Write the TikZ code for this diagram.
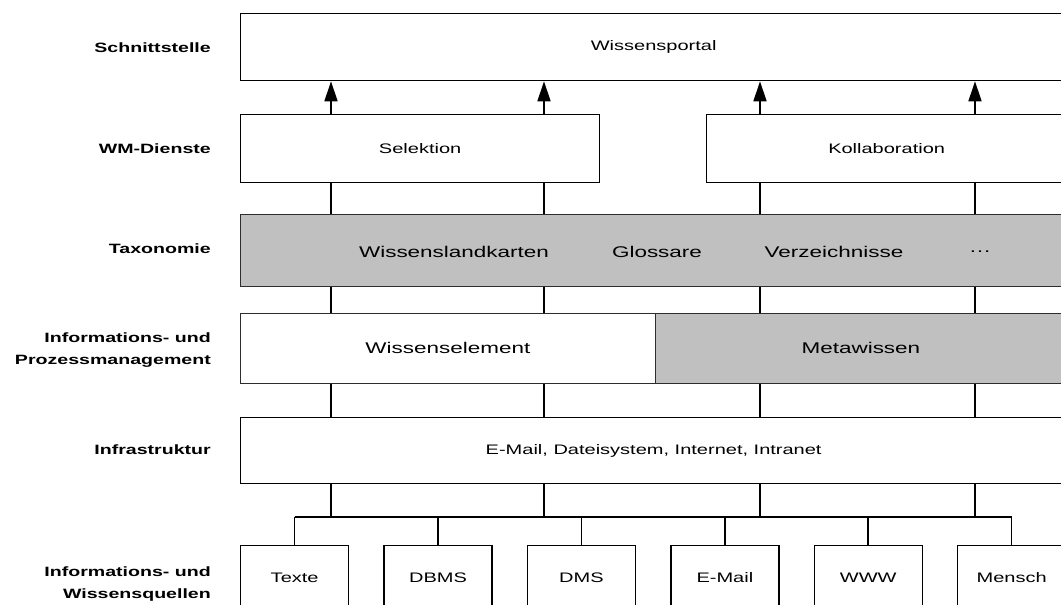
\documentclass[tikz,border=0pt]{standalone}
\usepackage{fontspec}
\setmainfont{Liberation Sans}[FakeStretch=1.45]
\usetikzlibrary{arrows.meta,positioning}
\definecolor{taxgray}{RGB}{192,192,192}
\definecolor{edgegray}{RGB}{45,45,45}

\begin{document}
\begin{tikzpicture}[
        x=1pt, y=-1pt,
        layer/.style={draw=black, line width=1.3pt, fill=white,
            anchor=north west, inner sep=0pt,
            font=\fontsize{13.8}{16}\selectfont},
        thinlayer/.style={layer, draw=edgegray, line width=0.8pt,
            font=\fontsize{15.5}{18}\selectfont},
        graylayer/.style={thinlayer, fill=taxgray},
        item/.style={inner sep=0pt, font=\fontsize{15.5}{18}\selectfont},
        source/.style={layer, minimum width=108pt, minimum height=64pt},
        levellabel/.style={anchor=east, align=right, inner sep=0pt,
            font=\bfseries\fontsize{13.5}{22}\selectfont},
        link/.style={line width=1.6pt},
        up/.style={link, -{Triangle[length=20pt,width=13pt]}}
    ]
    \useasboundingbox (0,0) rectangle (1061,605);

    % layers
    \node[layer, minimum width=826pt, minimum height=67pt] (portal) at (240,13) {Wissensportal};
    \node[layer, minimum width=359pt, minimum height=68pt] (sel) at (240,114) {Selektion};
    \node[layer, minimum width=360pt, minimum height=68pt] (kol) at (706,114) {Kollaboration};
    \node[graylayer, minimum width=826pt, minimum height=72pt] (tax) at (240,214) {};
    \node[item] (karten) at (454,252) {Wissenslandkarten};
    \node[item] (glossar) at (657,252) {Glossare};
    \node[item] (verz) at (834,252) {Verzeichnisse};
    \node[item] (more) at (980,252) {\dots};
    \node[thinlayer, minimum width=415pt, minimum height=70pt] (element) at (240,313) {Wissenselement};
    \node[graylayer, minimum width=411pt, minimum height=70pt] (meta) at (655,313) {Metawissen};
    \node[layer, minimum width=826pt, minimum height=66pt] (infra) at (240,417) {E-Mail, Dateisystem, Internet, Intranet};

    % sources
    \foreach \name/\txt [count=\i from 0] in {texte/Texte, dbms/DBMS, dms/DMS, email/E-Mail, www/WWW, mensch/Mensch}
        \node[source] (\name) at ({240+143.4*\i},545) {\txt};

    % level labels
    \node[levellabel] (l-schnitt) at (211,48) {Schnittstelle};
    \node[levellabel] (l-dienste) at (211,149) {WM-Dienste};
    \node[levellabel] (l-tax) at (211,249) {Taxonomie};
    \node[levellabel] (l-prozess) at (211,350) {Informations- und\\Prozessmanagement};
    \node[levellabel] (l-infra) at (211,450) {Infrastruktur};
    \node[levellabel] (l-quellen) at (211,584) {Informations- und\\Wissensquellen};

    % columns and bus
    \coordinate (c1) at (331,0);
    \coordinate (c2) at (544,0);
    \coordinate (c3) at (760,0);
    \coordinate (c4) at (975,0);
    \coordinate (bus) at (0,517);

    % connectors
    \foreach \c in {c1,c2} {
        \draw[up] (\c |- sel.north) -- (\c |- portal.south);
        \draw[link] (\c |- sel.south) -- (\c |- tax.north);
        \draw[link] (\c |- tax.south) -- (\c |- element.north);
        \draw[link] (\c |- element.south) -- (\c |- infra.north);
    }
    \foreach \c in {c3,c4} {
        \draw[up] (\c |- kol.north) -- (\c |- portal.south);
        \draw[link] (\c |- kol.south) -- (\c |- tax.north);
        \draw[link] (\c |- tax.south) -- (\c |- meta.north);
        \draw[link] (\c |- meta.south) -- (\c |- infra.north);
    }
    \foreach \c in {c1,c2,c3,c4}
        \draw[link] (\c |- infra.south) -- (\c |- bus);
    \draw[link] (texte.north |- bus) -- (mensch.north |- bus);
    \foreach \n in {texte,dbms,dms,email,www,mensch}
        \draw[link] (\n.north |- bus) -- (\n.north);
\end{tikzpicture}
\end{document}
